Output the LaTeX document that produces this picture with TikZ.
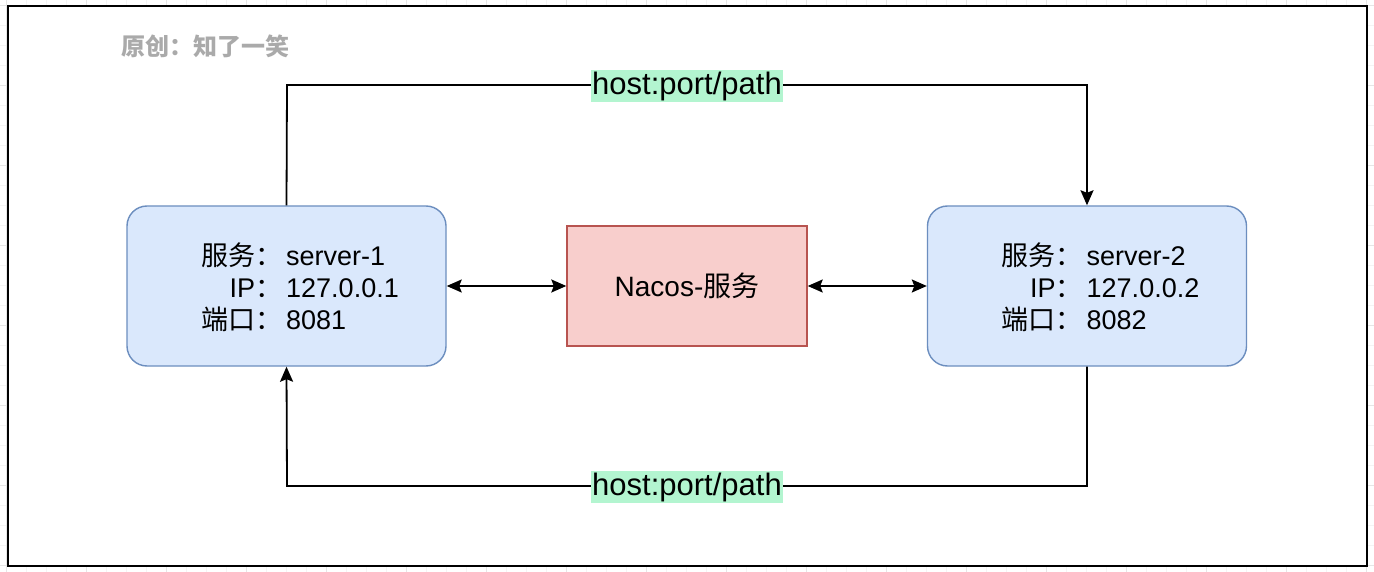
\documentclass[tikz,border=0pt]{standalone}
\usepackage{fontspec}
\setmainfont{Liberation Sans}
\newfontfamily\cjk{Noto Sans CJK SC}
\usetikzlibrary{arrows.meta}
\definecolor{bluefill}{HTML}{DAE8FC}
\definecolor{bluedraw}{HTML}{6C8EBF}
\definecolor{redfill}{HTML}{F8CECC}
\definecolor{reddraw}{HTML}{B85450}
\definecolor{labelgreen}{HTML}{B3F5D0}
\definecolor{wmgray}{HTML}{AAAAAA}
\definecolor{gridminor}{HTML}{F4F4F4}
\definecolor{gridmajor}{HTML}{E6E6E6}
\tikzset{
  server/.style={draw=bluedraw, fill=bluefill, line width=1.4pt, rounded corners=20pt,
    minimum width=319pt, minimum height=160pt, inner sep=0pt, font=\fontsize{27}{32}\selectfont},
  nacos/.style={draw=reddraw, fill=redfill, line width=1.4pt,
    minimum width=240pt, minimum height=120pt, inner sep=0pt, font=\fontsize{28}{32}\selectfont},
  conn/.style={line width=1.8pt, black},
  tip/.style={-{Stealth[length=15pt,width=13pt,inset=2.5pt]}},
  dtip/.style={{Stealth[length=15pt,width=13pt,inset=2.5pt]}-{Stealth[length=15pt,width=13pt,inset=2.5pt]}},
  pathlabel/.style={fill=labelgreen, inner xsep=1pt, inner ysep=2pt, font=\fontsize{31}{34}\selectfont},
}
\newcommand{\srvtext}[3]{\hspace*{27pt}\raisebox{-5pt}[\height][\depth]{\begin{tabular}{@{}r@{\hspace{4pt}}l@{}}\smash{\cjk 服务：}&#1\\ IP\smash{\cjk ：}&#2\\ \smash{\cjk 端口：}&#3\end{tabular}}}
\begin{document}
\begin{tikzpicture}[x=1pt, y=-1pt]
\useasboundingbox (0,0) rectangle (1374,572);
\fill[white] (0,0) rectangle (1374,572);
% faint grid
\foreach \x in {6.7,26.7,...,1374} \draw[gridminor, line width=0.8pt] (\x,0) -- (\x,572);
\foreach \y in {5,25,...,572} \draw[gridminor, line width=0.8pt] (0,\y) -- (1374,\y);
\foreach \x in {6.7,86.7,...,1374} \draw[gridmajor, line width=0.8pt] (\x,0) -- (\x,572);
\foreach \y in {5,85,...,572} \draw[gridmajor, line width=0.8pt] (0,\y) -- (1374,\y);
% outer frame
\draw[fill=white, line width=2.2pt] (8,6) rectangle (1367,566);
% watermark
\node[anchor=west, text=wmgray, font=\cjk\bfseries\fontsize{24}{26}\selectfont, inner sep=0pt] (wm) at (121,46) {原创：知了一笑};
% nodes
\node[server] (s1) at (286.5,286) {\srvtext{server-1}{127.0.0.1}{8081}};
\node[server] (s2) at (1087,286) {\srvtext{server-2}{127.0.0.2}{8082}};
\node[nacos] (nc) at (687,286) {Nacos-{\cjk 服务}};
% double arrows
\draw[conn, dtip] (s1.east) -- (nc.west);
\draw[conn, dtip] (nc.east) -- (s2.west);
% top route
\coordinate (t1) at (287,85);
\coordinate (t2) at (1087,85);
\draw[conn, tip] (s1.north) -- (t1) -- (t2) -- (s2.north);
\node[pathlabel] (lt) at (687,86) {host:port/path};
% bottom route
\coordinate (b1) at (1087,486);
\coordinate (b2) at (287,486);
\draw[conn, tip] (s2.south) -- (b1) -- (b2) -- (s1.south);
\node[pathlabel] (lb) at (687,487) {host:port/path};
\end{tikzpicture}
\end{document}
